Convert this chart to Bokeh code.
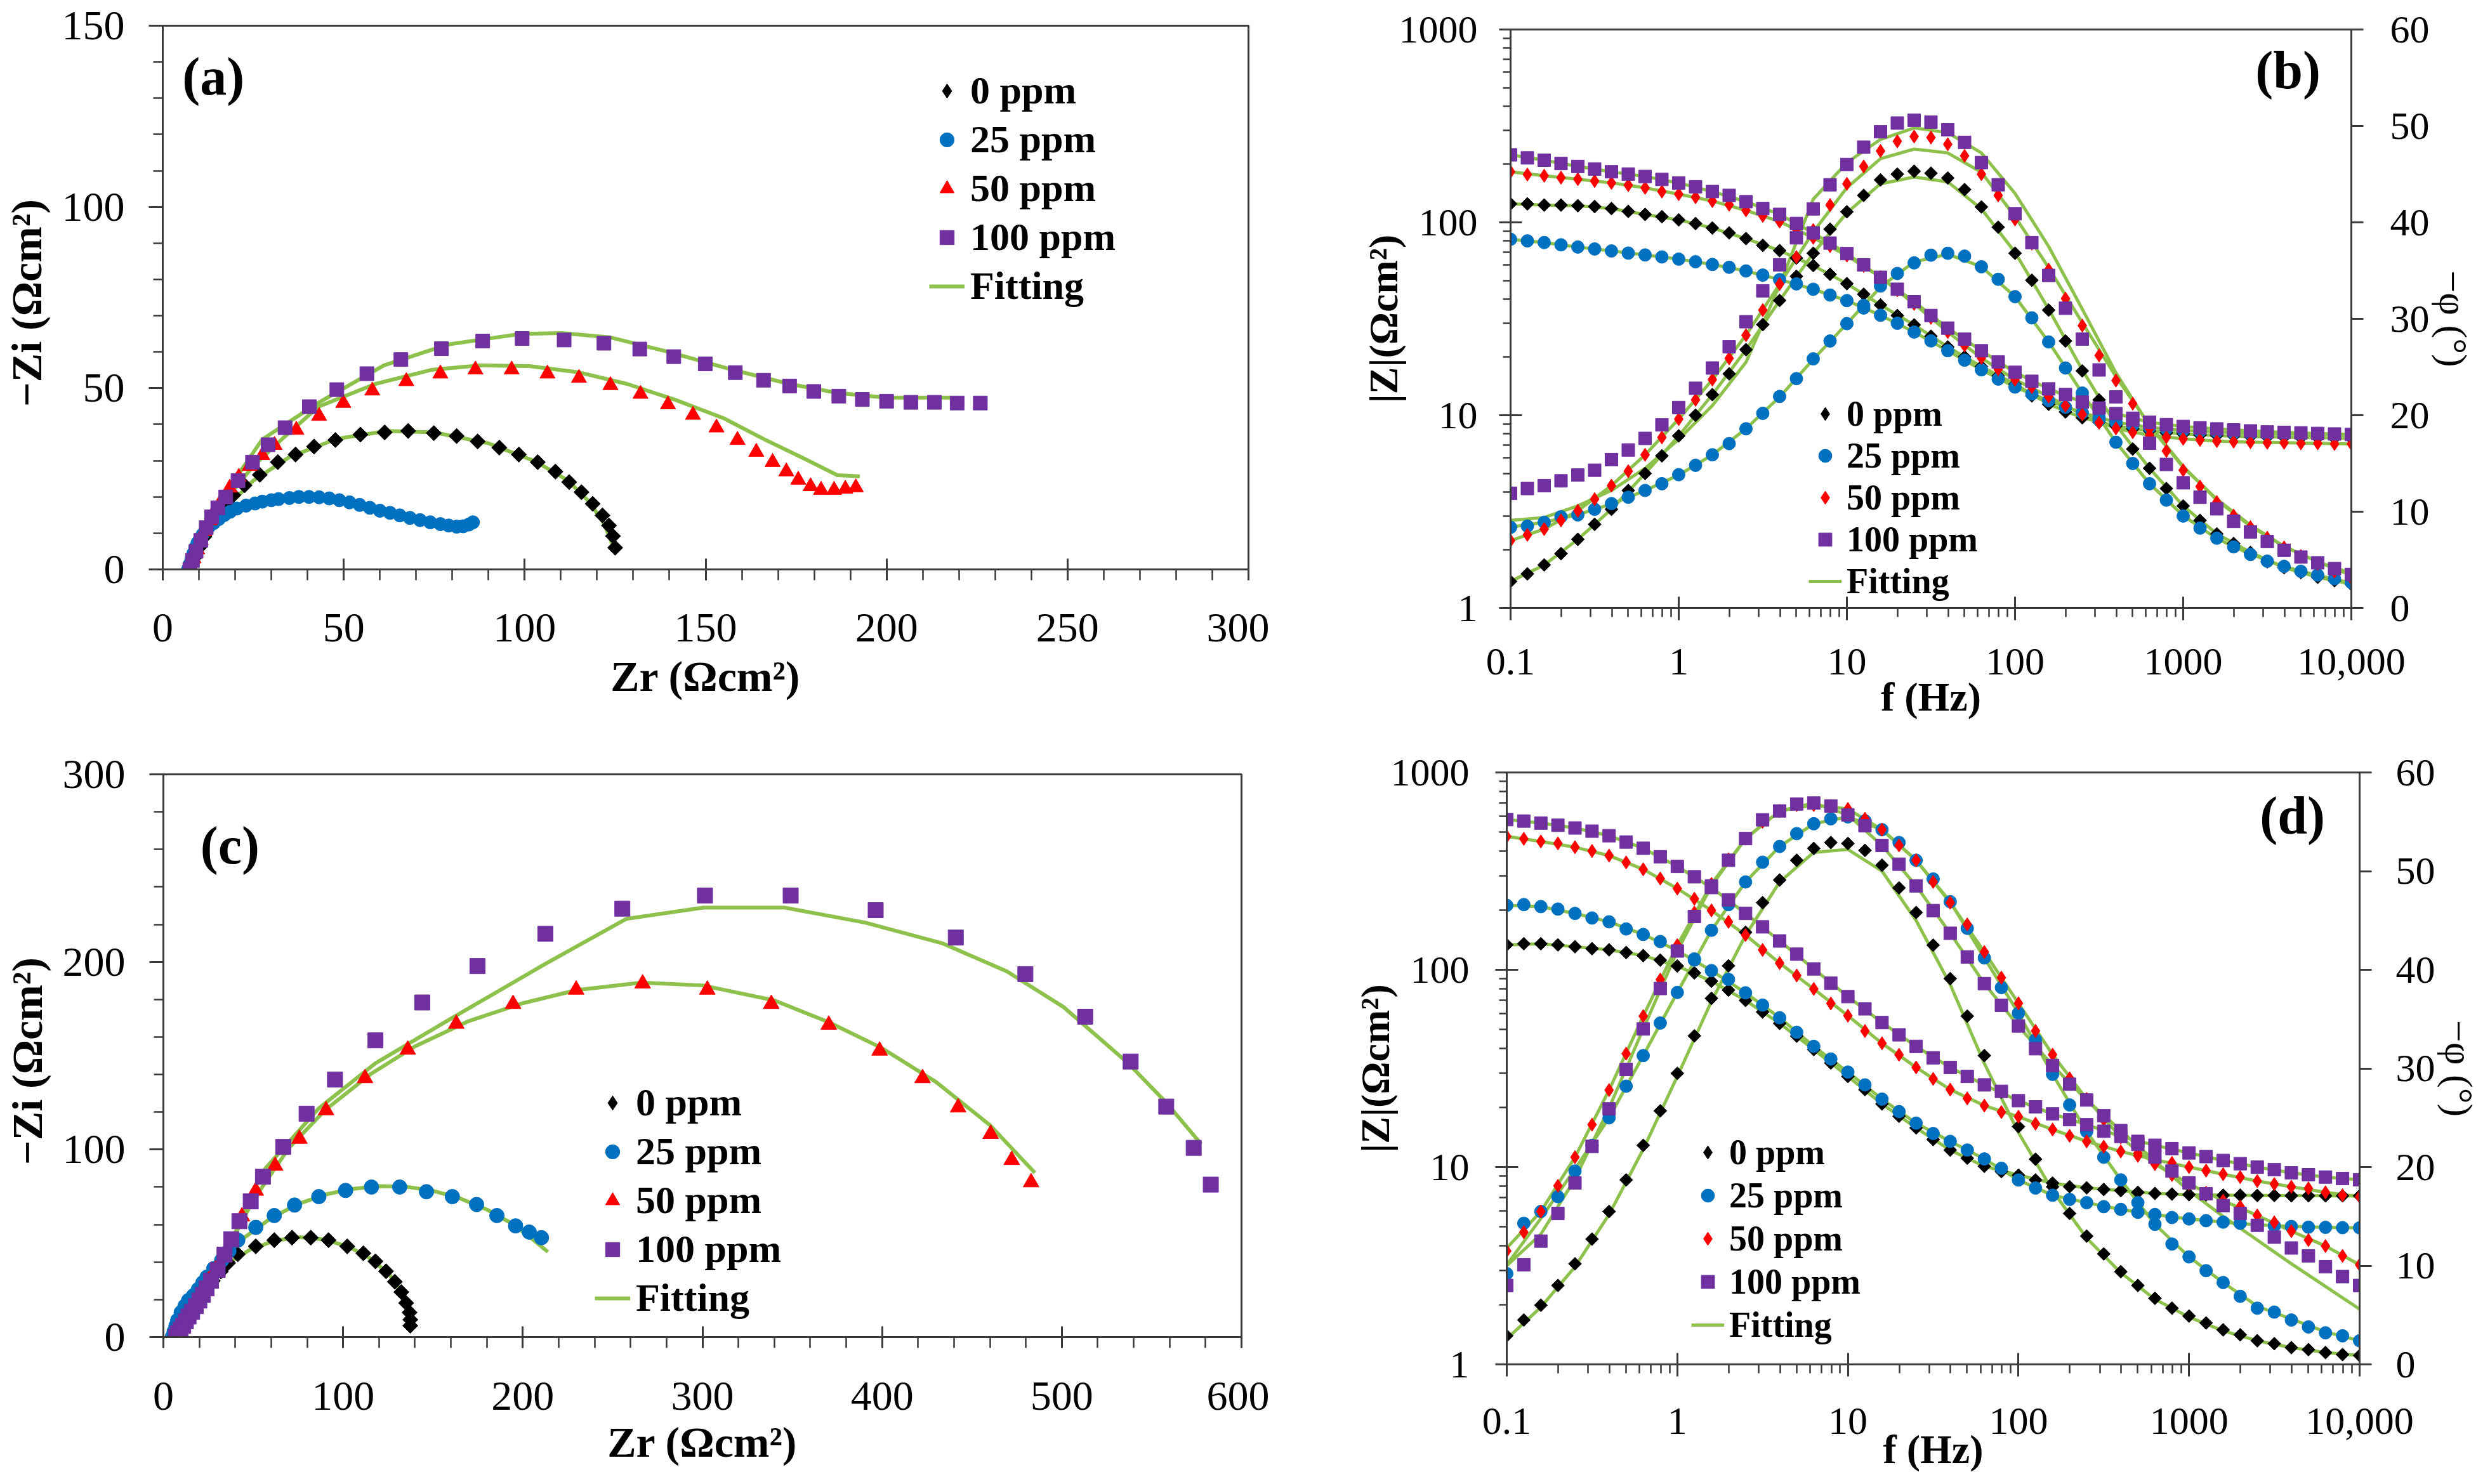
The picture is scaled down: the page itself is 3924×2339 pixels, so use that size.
import math
from bokeh.plotting import figure
from bokeh.models import (Range1d, LinearAxis, LinearScale, Legend, LegendItem, Label, FixedTicker,
                          SingleIntervalTicker, CustomJSTickFormatter)
from bokeh.layouts import column, row
from bokeh.embed import file_html
from bokeh.resources import INLINE

FONT = "Liberation Serif"
SERIES = ["0 ppm", "25 ppm", "50 ppm", "100 ppm"]
COLORS = ["#000000", "#0070C0", "#FF0000", "#7030A0"]
FIT_COLOR = "#8DC14B"
AXIS = "#3A3A3A"

# ---------------- panel (a): Nyquist, first set ----------------
A_X0 = [7.5, 8.5, 10, 11.5, 13, 15, 17, 19.5, 22.6, 26.8, 31.8, 36.7, 41.8, 47.7, 54.6, 61.3, 67.8, 74.9,
        81.2, 87, 93, 98.4, 103.6, 108.5, 112.3, 115.7, 118.8, 121.5, 123.3, 124.4, 125]
A_Y0 = [1, 3, 6, 9, 12, 15, 18, 20.5, 23.2, 26.1, 29.6, 31.7, 33.9, 35.7, 37.2, 37.8, 38.2, 37.6,
        36.8, 35.3, 33.6, 31.7, 29.6, 27, 24.1, 21.3, 18.1, 14.9, 12.1, 9.2, 6]
A_X25 = [7, 7.5, 8, 8.5, 9, 9.6, 10.3, 11, 11.8, 12.7, 14.1, 15.5, 17, 18.6, 20.5, 23, 25.5, 27.5, 30, 32,
         35, 37.6, 40.4, 43.2, 46, 48.8, 51.6, 54.4, 57.2, 60, 62.8, 65.5, 68.3, 71.1, 73.9, 76.7, 79, 81.2,
         83, 84.6, 85.7]
A_Y25 = [0, 1.5, 3, 4.5, 6, 7.3, 8.5, 9.6, 10.6, 11.7, 12.8, 13.9, 15, 15.9, 16.8, 17.6, 18.2, 18.7, 19.1,
         19.4, 19.7, 20, 20, 19.9, 19.6, 19.1, 18.5, 17.8, 17, 16.2, 15.6, 14.9, 14.2, 13.6, 13.0, 12.5,
         12.1, 11.8, 11.9, 12.4, 13.0]
A_X50 = [7.5, 8.5, 9.5, 10.5, 11.5, 13, 14.5, 16.5, 18.5, 21, 24, 27.5, 30.9, 36.9, 43.2, 49.9, 57.9, 67.3,
         76.7, 86.4, 96.4, 106.3, 115, 123.7, 132, 139.6, 146.5, 153, 158.8, 164, 168.5, 172.3, 175.6, 179,
         181.9, 185.5, 188.6, 191.5]
A_Y50 = [0.5, 3, 5.5, 8, 10.5, 13.5, 16.5, 19.5, 22.5, 25.5, 28.5, 31.5, 34.3, 38.5, 42.3, 45.9, 49.3, 51.9,
         54, 55.1, 55.1, 54, 52.8, 50.8, 48.4, 45.5, 42.6, 39.1, 35.7, 32.4, 29.6, 27, 24.7, 22.9, 21.9,
         21.9, 22.2, 22.6]
A_X100 = [7.5, 8.2, 9.2, 10.5, 12, 13.5, 15.2, 17.4, 20.8, 24.8, 29.1, 33.8, 40.5, 48.1, 56.4, 65.8, 77,
          88.4, 99.3, 110.9, 121.9, 131.8, 141.2, 149.9, 158.2, 166, 173.2, 179.9, 186.8, 193.3, 200,
          206.7, 213.2, 219.5, 225.9]
A_Y100 = [0, 2.5, 5, 8, 11.5, 14.5, 17, 20, 24.5, 29.6, 34.4, 39.1, 44.9, 49.6, 54, 57.9, 60.9, 63, 63.7,
          63.3, 62.4, 60.8, 58.7, 56.7, 54.3, 52.2, 50.6, 49.1, 47.8, 46.9, 46.4, 46.1, 46.1, 45.9, 45.9]
A_FX0 = [7, 12, 18, 25, 35, 48, 62, 75, 90, 103, 112, 118, 122, 125]
A_FY0 = [0, 9, 17.5, 24.5, 31, 36, 38.2, 37.8, 34.8, 29.8, 24.5, 18.5, 12.5, 5]
A_FX50 = [7, 12, 18, 25, 33, 43, 58.8, 74.5, 87.9, 101.3, 114.8, 128.2, 141.6, 155, 166.2, 177.4, 186.4, 192.6]
A_FY50 = [0, 11, 20, 28.5, 36, 44.9, 51.2, 55.1, 56.3, 56.1, 54.4, 51.2, 46.8, 41.7, 35.9, 30.5, 26, 25.7]
A_FX100 = [7, 12, 18, 27.5, 43.2, 61.1, 79, 99.1, 110.3, 123.7, 139.4, 157.3, 173, 186.4, 199.8, 217.7]
A_FY100 = [0, 11, 22, 35.9, 46.1, 56.3, 62.1, 65, 65.2, 64, 60.1, 55.1, 51.2, 48.7, 47.4, 47.4]

# ---------------- panel (c): Nyquist, second set ----------------
C_X0 = [5, 6.5, 8, 10, 12.5, 15.5, 19, 23, 27.5, 32, 36, 41.4, 51.4, 61.7, 71.6, 82, 91.9, 102.3, 111.3,
        118, 123.9, 128.8, 132.4, 135.1, 137, 137.4, 137.4]
C_Y0 = [0, 2, 5, 8, 12, 16, 20, 25, 30, 35, 39.5, 44.2, 48.4, 51.7, 53, 53, 51.7, 48.4, 44.7, 40.4, 35.1,
        29.5, 24, 18.2, 13.1, 9.3, 6.1]
C_X25 = [5, 6, 7, 8, 9.9, 12, 14, 16.7, 19.5, 22, 24.3, 28, 32.4, 36.5, 41.4, 51.4, 61.7, 73, 86.5, 101.4,
         115.8, 131.5, 146.4, 160.8, 174.3, 185.6, 196, 203.6, 210.4]
C_Y25 = [0, 3, 6, 9, 13.1, 16.5, 19.5, 22, 25.5, 29, 32, 36.5, 40.9, 46, 51.7, 58.5, 64.8, 70.4, 74.9, 78.2,
         80, 80, 77.5, 74.9, 70.7, 64.8, 59.3, 56, 53]
C_X50 = [6, 8, 10, 12.5, 15, 18, 21, 25, 29, 34, 43.7, 51.4, 62.2, 75.7, 90.5, 112.2, 136, 163, 194.6,
         229.7, 266.7, 302.7, 338.3, 370.3, 398.6, 422.5, 442.3, 460.4, 472.1, 482.9]
C_Y50 = [0, 3, 6.5, 10.5, 14.5, 19, 24, 30, 36, 43, 64.3, 78, 91.3, 105.7, 120.9, 138, 153.2, 167, 177.6,
         185.2, 188.5, 185.2, 177.6, 166.5, 152.7, 138, 122.4, 108.3, 94.4, 82.5]
C_X100 = [7, 8, 9.5, 11, 12.5, 14, 16, 18, 20, 22, 24, 26.5, 30.2, 34, 37.8, 42.3, 48.6, 55.4, 66.7, 79.7,
          95.5, 118, 144.1, 174.8, 212.6, 255.4, 301.4, 349.1, 396.4, 441, 479.7, 513, 538.3, 558.1,
          573.4, 582.9]
C_Y100 = [0, 2, 4, 6, 8.5, 11, 13.5, 16.5, 19.5, 22.5, 26, 30, 35.8, 44, 52.2, 61.8, 72.4, 85.5, 101.4,
          119.1, 137.3, 158.2, 178.4, 197.8, 215, 228.4, 235.4, 235.4, 227.6, 213, 193.5, 170.8, 146.9,
          122.9, 100.9, 81.3]
C_FX0 = [5, 12, 22, 34, 48, 62, 76, 90, 104, 116, 126, 132, 136, 138]
C_FY0 = [0, 12, 24, 38, 46.5, 51.5, 53.3, 52, 47.8, 41.5, 33, 25, 16, 6]
C_FX25 = [5, 15, 30, 45, 60, 75, 90, 105, 120, 135, 150, 165, 180, 195, 205, 214]
C_FY25 = [0, 20, 38, 53, 63.5, 71, 76, 79, 80.5, 80.2, 78, 74, 68, 60, 52.5, 45.4]
C_FX50 = [6, 15, 25, 35, 50, 70, 90, 115, 140, 170, 200, 230, 266, 300, 340, 370, 400, 430, 460, 485]
C_FY50 = [0, 14, 29, 46, 73, 101, 121, 140, 155, 168.5, 178, 185, 189, 187.5, 179.5, 168, 154, 136, 113, 87.6]
C_FX100 = [7, 20, 35, 55, 86.5, 118, 158.6, 212.6, 257.7, 300.5, 345.5, 390.5, 433.3, 469.4, 500.9, 536.9,
           558.1, 577.5]
C_FY100 = [0, 19, 45, 88, 122, 146, 169, 199, 223, 229, 229, 221, 210, 195, 176, 146, 125, 103]

# ---------------- Bode frequencies ----------------
FREQ = [0.1, 0.1259, 0.1585, 0.1995, 0.2512, 0.3162, 0.3981, 0.5012, 0.631, 0.7943,
        1.0, 1.259, 1.585, 1.995, 2.512, 3.162, 3.981, 5.012, 6.31, 7.943,
        10.0, 12.59, 15.85, 19.95, 25.12, 31.62, 39.81, 50.12, 63.1, 79.43,
        100.0, 125.9, 158.5, 199.5, 251.2, 316.2, 398.1, 501.2, 631.0, 794.3,
        1000.0, 1259.0, 1585.0, 1995.0, 2512.0, 3162.0, 3981.0, 5012.0, 6310.0, 7943.0, 10000.0]
FIT_FREQ = [0.1, 0.1585, 0.2512, 0.3981, 0.631, 1.0, 1.585, 2.512, 3.981, 6.31, 10.0, 15.85, 25.12,
            39.81, 63.1, 100.0, 158.5, 251.2, 398.1, 631.0, 1000.0, 1585.0, 2512.0, 3981.0, 6310.0, 10000.0]

# ---------------- panel (b) ----------------
B_Z0 = [124.7, 124.7, 123.0, 123.0, 122.0, 120.8, 118.0, 114.0, 110.0, 107.0,
        103.0, 98.6, 93.5, 88.2, 82.4, 76.0, 71.4, 65.3, 59.7, 53.8,
        48.1, 42.4, 37.3, 32.9, 29.4, 25.7, 22.6, 20.1, 17.9, 16.0,
        14.5, 12.6, 11.4, 10.4, 9.7, 9.2, 8.8, 8.5, 8.3, 8.1,
        8.0, 7.9, 7.85, 7.8, 7.75, 7.7, 7.7, 7.65, 7.65, 7.6, 7.6]
B_Z25 = [81.7, 80.2, 78.6, 76.5, 74.5, 72.8, 71.1, 69.3, 67.8, 66.2,
         64.5, 62.5, 60.5, 58.5, 56.0, 53.3, 50.5, 48.0, 45.0, 42.0,
         39.3, 36.0, 33.0, 30.0, 27.0, 24.3, 21.6, 19.3, 17.2, 15.4,
         14.0, 12.9, 11.9, 11.0, 10.3, 9.7, 9.2, 8.9, 8.65, 8.5,
         8.35, 8.25, 8.2, 8.1, 8.05, 8.0, 8.0, 7.95, 7.95, 7.9, 7.9]
B_Z50 = [183, 177, 174.5, 170.6, 167.5, 163.8, 160.3, 156, 151, 144.5,
         140, 135, 129, 123.5, 115.4, 108, 101, 92.3, 83.2, 75.3,
         67.3, 59.5, 52, 44.5, 37.8, 32, 27, 23, 19.8, 17.3,
         15.3, 14.0, 12.5, 11.2, 10.1, 9.14, 8.55, 8.17, 7.88, 7.7,
         7.55, 7.45, 7.35, 7.3, 7.25, 7.2, 7.2, 7.15, 7.15, 7.1, 7.1]
B_Z100 = [224, 216, 210, 202, 195, 189, 183, 178, 173, 167,
          160, 153, 144.5, 138, 128, 118, 110, 98.7, 88.2, 78.1,
          68.9, 60.2, 51.9, 45, 38.8, 32.9, 28.3, 24.8, 21.6, 18.9,
          16.7, 15, 13.7, 12.8, 11.7, 10.9, 10.2, 9.65, 9.2, 8.94,
          8.75, 8.6, 8.5, 8.4, 8.3, 8.2, 8.15, 8.1, 8.05, 8.0, 7.95]
B_P0 = [2.77, 3.55, 4.48, 5.65, 7.13, 8.69, 10.25, 12.2, 13.96, 15.79,
        17.86, 20.0, 22.14, 24.3, 26.8, 29.4, 31.9, 34.4, 36.8, 39.3,
        41.1, 42.8, 44.4, 45.0, 45.3, 45.1, 44.6, 43.4, 41.6, 39.5,
        36.8, 34.0, 30.9, 27.7, 24.6, 21.6, 19.0, 16.5, 14.5, 12.4,
        10.6, 9.1, 7.7, 6.7, 5.77, 4.8, 4.2, 3.7, 3.2, 2.85, 2.46]
B_P25 = [8.38, 8.5, 8.9, 9.47, 9.67, 10.25, 10.84, 11.5, 12.2, 12.9,
         13.84, 14.81, 15.9, 17.06, 18.6, 20.2, 21.95, 23.8, 25.85, 27.7,
         29.5, 31.4, 33.4, 34.7, 35.8, 36.6, 36.8, 36.5, 35.4, 34.1,
         32.3, 30.1, 27.6, 24.9, 22.3, 19.5, 17.2, 15.0, 12.9, 11.2,
         9.55, 8.3, 7.25, 6.35, 5.57, 4.87, 4.33, 3.82, 3.43, 3.04, 2.65]
B_P50 = [7.0, 7.6, 8.2, 9.1, 10.1, 11.3, 12.7, 14.2, 15.9, 17.7,
         19.6, 21.6, 23.7, 25.9, 28.3, 30.9, 33.6, 36.4, 39.2, 41.8,
         44.0, 45.8, 47.4, 48.4, 48.9, 48.8, 48.1, 46.9, 45.0, 42.8,
         40.3, 37.8, 35.1, 32.1, 29.3, 26.2, 23.6, 21.2, 18.6, 16.3,
         14.3, 12.6, 11.0, 9.6, 8.4, 7.3, 6.3, 5.4, 4.6, 3.8, 3.1]
B_P100 = [11.9, 12.4, 12.7, 13.2, 13.8, 14.3, 15.4, 16.4, 17.6, 19.0,
          20.8, 22.8, 24.9, 27.1, 29.7, 32.9, 35.6, 38.4, 41.4, 43.9,
          46.0, 47.8, 49.4, 50.3, 50.6, 50.4, 49.6, 48.3, 46.2, 43.9,
          40.9, 37.9, 34.5, 31.1, 27.9, 24.7, 21.9, 19.5, 17.1, 14.9,
          13.0, 11.5, 10.3, 9.0, 7.9, 6.9, 6.0, 5.3, 4.7, 4.1, 3.5]
BF_Z0 = [124.7, 123.0, 122.0, 118.0, 110.0, 103.0, 93.5, 82.4, 71.4, 59.7, 48.1, 37.3, 29.4, 22.6, 17.9,
         14.5, 11.4, 9.7, 8.8, 8.3, 8.0, 7.85, 7.75, 7.7, 7.65, 7.6]
BF_Z25 = [81.7, 78.6, 74.5, 71.1, 67.8, 64.5, 60.5, 56.0, 50.5, 45.0, 39.3, 33.0, 27.0, 21.6, 17.2, 14.0,
          11.9, 10.3, 9.2, 8.65, 8.35, 8.2, 8.05, 8.0, 7.95, 7.9]
BF_Z50 = [183, 174.5, 167.5, 160.3, 151, 140, 129, 115.4, 101, 83.2, 67.3, 52, 37.8, 27, 19.8, 15.3, 12.5,
          10.1, 8.55, 7.88, 7.55, 7.35, 7.25, 7.2, 7.15, 7.1]
BF_Z100 = [224, 210, 195, 183, 173, 160, 144.5, 128, 110, 88.2, 68.9, 51.9, 38.8, 28.3, 21.6, 16.7, 13.7,
           11.7, 10.2, 9.2, 8.75, 8.5, 8.3, 8.15, 8.05, 7.95]
BF_P0 = [2.77, 4.48, 7.13, 10.25, 13.96, 17.86, 22.14, 26.8, 31.9, 36.8, 41.0, 44.0, 44.7, 44.2, 41.4,
         36.9, 31.0, 24.7, 19.0, 14.5, 10.6, 7.7, 5.8, 4.2, 3.2, 2.5]
BF_P25 = [8.4, 8.9, 9.7, 10.8, 12.2, 13.8, 15.9, 18.6, 21.9, 25.8, 29.5, 33.3, 35.9, 36.7, 35.4, 32.3,
          27.6, 22.3, 17.2, 12.9, 9.6, 7.2, 5.6, 4.3, 3.4, 2.6]
BF_P50 = [7.0, 8.2, 10.1, 12.7, 15.9, 19.6, 23.7, 28.3, 33.6, 39.0, 43.6, 46.6, 47.6, 47.2, 45.2, 40.6,
          35.3, 29.6, 24.0, 19.0, 14.7, 11.2, 8.5, 6.4, 4.8, 3.4]
BF_P100 = [9.1, 9.4, 10.6, 12.2, 14.5, 17.5, 21.0, 25.5, 33.5, 42.4, 46.2, 48.6, 49.8, 49.3, 47.2, 43.0,
           37.5, 31.0, 24.4, 18.9, 14.6, 11.3, 8.6, 6.4, 4.8, 3.6]

# ---------------- panel (d) ----------------
D_Z0 = [133.7, 135.5, 135.5, 133.7, 130.9, 127.9, 126.2, 122.3, 118.0, 111.9,
        104.5, 96.4, 87.5, 78.9, 69.9, 61.1, 53.5, 46.1, 39.4, 33.7,
        28.8, 24.7, 20.9, 18.1, 15.8, 13.8, 12.2, 11.1, 10.1, 9.5,
        9.1, 8.6, 8.3, 7.95, 7.85, 7.7, 7.6, 7.45, 7.35, 7.3,
        7.25, 7.22, 7.2, 7.2, 7.18, 7.18, 7.16, 7.16, 7.15, 7.15, 7.15]
D_Z25 = [212, 214, 209, 203, 193, 183, 175, 161, 151, 139,
         125, 112, 99, 89.4, 76.4, 66.2, 57.1, 48.2, 40.9, 35.3,
         30.3, 26.1, 22.1, 19.1, 16.7, 14.8, 13.5, 12.2, 11.0, 9.86,
         8.6, 7.83, 7.2, 6.86, 6.6, 6.3, 6.1, 5.9, 5.75, 5.55,
         5.46, 5.35, 5.26, 5.19, 5.1, 5.03, 5.0, 4.96, 4.95, 4.93, 4.92]
D_Z50 = [474, 461, 447, 437, 418, 400, 379, 350, 323, 290,
         258, 229, 200, 175, 150, 126, 108, 93.5, 80, 67.5,
         58.5, 48.9, 42.4, 37.1, 32, 28, 24.7, 22.3, 20.5, 19.0,
         18.0, 16.6, 15.5, 14.4, 13.5, 12.7, 12.0, 11.4, 10.9, 10.5,
         10.0, 9.6, 9.2, 8.9, 8.5, 8.2, 7.95, 7.8, 7.45, 7.2, 7.07]
D_Z100 = [577, 567, 554, 540, 523, 504, 478, 444, 413, 374,
          334, 296, 261, 226, 193, 165, 140, 120, 101, 85.5,
          73.1, 63.4, 54, 46.8, 40.9, 35.8, 32, 28.8, 26.1, 24.2,
          21.7, 20.2, 18.6, 17.4, 16.4, 15.2, 14.3, 13.5, 12.9, 12.4,
          11.8, 11.3, 10.8, 10.4, 10.0, 9.7, 9.35, 9.15, 8.9, 8.75, 8.63]
D_P0 = [2.9, 4.5, 6.0, 8.0, 10.2, 12.7, 15.5, 18.7, 22.2, 25.7,
        29.5, 33.3, 37.1, 40.4, 43.8, 46.8, 49.1, 51.1, 52.3, 52.9,
        52.8, 52.1, 50.6, 48.3, 45.8, 42.5, 39.1, 35.3, 31.3, 27.6,
        24.1, 20.8, 18.0, 15.3, 13.0, 11.2, 9.4, 8.0, 6.7, 5.7,
        4.9, 4.2, 3.5, 3.0, 2.4, 2.1, 1.7, 1.5, 1.2, 1.0, 0.9]
D_P25 = [9.2, 14.3, 15.5, 17.0, 19.6, 22.2, 25.0, 28.2, 31.3, 34.6,
         37.7, 41.1, 44.0, 46.6, 48.9, 50.9, 52.5, 53.8, 54.8, 55.3,
         55.5, 55.1, 54.2, 52.9, 51.1, 49.2, 46.9, 44.2, 41.2, 38.2,
         35.6, 32.9, 29.4, 26.3, 23.6, 21.0, 18.7, 16.4, 14.2, 12.2,
         10.9, 9.5, 8.3, 6.9, 5.7, 5.3, 4.5, 3.8, 3.2, 2.9, 2.4]
D_P50 = [11.5, 13.4, 15.5, 18.1, 21.0, 24.3, 27.8, 31.5, 35.3, 39.0,
         42.5, 45.8, 48.7, 51.2, 53.3, 55.0, 56.1, 56.7, 56.7, 56.6,
         56.3, 55.3, 54.2, 52.6, 51.1, 48.9, 46.8, 44.6, 41.8, 39.2,
         36.6, 33.8, 31.4, 29.0, 26.9, 24.8, 23.0, 21.4, 20.3, 19.2,
         18.3, 17.4, 16.6, 16.0, 15.1, 14.4, 13.5, 12.6, 12.0, 11.0, 10.1]
D_P100 = [8.0, 10.1, 12.5, 15.3, 18.4, 22.1, 25.9, 29.9, 34.0, 38.1,
          41.9, 45.4, 48.5, 51.1, 53.3, 55.2, 56.1, 56.8, 56.9, 56.6,
          55.7, 54.6, 52.6, 50.7, 48.5, 46.0, 43.7, 41.3, 38.6, 36.4,
          34.3, 32.0, 30.3, 28.4, 26.8, 25.2, 23.7, 22.3, 21.0, 19.6,
          18.4, 17.3, 16.1, 15.3, 14.1, 12.9, 11.8, 11.0, 9.9, 8.9, 8.0]
DF_Z0 = [133.7, 135.5, 130.9, 126.2, 118.0, 104.5, 87.5, 69.9, 53.5, 39.4, 28.8, 20.9, 15.8, 12.2, 10.1,
         9.1, 8.3, 7.85, 7.6, 7.35, 7.25, 7.2, 7.18, 7.16, 7.15, 7.15]
DF_Z25 = [212, 209, 193, 175, 151, 125, 99, 76.4, 57.1, 40.9, 30.3, 22.1, 16.7, 13.5, 11.0, 8.6, 7.2, 6.6,
          6.1, 5.75, 5.46, 5.26, 5.1, 5.0, 4.95, 4.92]
DF_Z50 = [474, 447, 418, 379, 323, 258, 200, 150, 108, 80, 58.5, 42.4, 32, 24.7, 20.5, 18.0, 15.5, 13.5,
          12.0, 10.9, 10.0, 9.2, 8.5, 7.95, 7.45, 7.07]
DF_Z100 = [577, 554, 523, 478, 413, 334, 261, 193, 140, 101, 73.1, 54, 40.9, 32, 26.1, 21.7, 18.6, 16.4,
           14.3, 12.9, 11.8, 10.8, 10.0, 9.35, 8.9, 8.63]
DF_P0 = [2.6, 5.8, 9.9, 15.2, 21.8, 29.2, 36.8, 43.5, 48.9, 51.9, 52.2, 50.0, 45.0, 38.5, 30.5, 23.5,
         17.6, 12.8, 9.3, 6.6, 4.8, 3.4, 2.4, 1.7, 1.2, 0.9]
DF_P25 = [10.1, 14.8, 19.8, 25.0, 31.3, 37.7, 44.0, 48.9, 52.5, 54.8, 55.5, 54.2, 51.1, 46.9, 41.2, 35.6,
          29.4, 23.6, 18.7, 14.2, 10.9, 8.3, 5.9, 4.6, 3.3, 2.4]
DF_P50 = [11.8, 15.5, 21.0, 27.8, 35.3, 42.5, 48.7, 53.3, 56.1, 56.7, 56.3, 54.2, 51.1, 46.8, 41.8, 36.6,
          31.4, 26.9, 23.0, 20.3, 18.3, 16.6, 15.1, 13.5, 12.0, 10.1]
DF_P100 = [10.0, 13.2, 18.8, 26.0, 34.0, 41.9, 48.5, 53.3, 56.1, 56.9, 55.7, 52.6, 48.5, 43.7, 38.6, 34.3,
           30.3, 26.8, 23.7, 20.6, 17.6, 15.0, 12.6, 10.2, 7.9, 5.6]

X_TICKS = [0.1, 1, 10, 100, 1000, 10000]
Y_TICKS = [1, 10, 100, 1000]
PHI_TICKS = [0, 10, 20, 30, 40, 50, 60]


def style_axis(ax, lab_px, title_px, title_bold, tin, tout, mout, lstand, tstand):
    ax.axis_line_color = AXIS
    ax.axis_line_width = 3
    ax.major_tick_line_color = AXIS
    ax.major_tick_line_width = 3
    ax.major_tick_in = tin
    ax.major_tick_out = tout
    if mout:
        ax.minor_tick_line_color = AXIS
        ax.minor_tick_line_width = 2.5
        ax.minor_tick_in = 0
        ax.minor_tick_out = mout
    else:
        ax.minor_tick_line_color = None
    ax.major_label_text_font = FONT
    ax.major_label_text_font_size = f"{lab_px}px"
    ax.major_label_text_color = "black"
    ax.major_label_standoff = lstand
    ax.axis_label_text_font = FONT
    ax.axis_label_text_font_size = f"{title_px}px"
    ax.axis_label_text_font_style = "bold" if title_bold else "normal"
    ax.axis_label_text_color = "black"
    ax.axis_label_standoff = tstand


def base_fig(w, h, borders, **kw):
    p = figure(width=w, height=h, output_backend="svg", toolbar_location=None,
               min_border_left=borders[0], min_border_right=borders[1],
               min_border_top=borders[2], min_border_bottom=borders[3], **kw)
    if "frame_align" in p.properties():
        p.frame_align = False
    p.xgrid.visible = False
    p.ygrid.visible = False
    p.outline_line_color = AXIS
    p.outline_line_width = 3
    p.outline_line_alpha = 1
    p.background_fill_color = "white"
    p.border_fill_color = "white"
    return p


def add_markers(p, x, y, i, sizes, bode, **kw):
    """Draw one series; returns the renderer used for the legend swatch."""
    c = COLORS[i]
    if i == 0:
        # a plain diamond (hidden under the rotated squares) gives the legend its diamond swatch
        legend_r = p.scatter(x, y, marker="diamond", size=sizes[0], fill_color=c, line_color=c, **kw)
        p.scatter(x, y, marker="square", angle=math.pi / 4, size=sizes[0],
                  fill_color=c, line_color=c, **kw)
        return legend_r
    if i == 1:
        return p.scatter(x, y, marker="circle", size=sizes[1], fill_color=c, line_color=c, **kw)
    if i == 2:
        return p.scatter(x, y, marker="diamond" if bode else "triangle", size=sizes[2],
                         fill_color=c, line_color=c, **kw)
    return p.scatter(x, y, marker="square", size=sizes[3], fill_color=c, line_color=c, **kw)


def add_legend(p, renderers, fit_renderer, loc, gw, gh, font_px, spacing, standoff):
    items = [LegendItem(label=name, renderers=[r]) for name, r in zip(SERIES, renderers)]
    items.append(LegendItem(label="Fitting", renderers=[fit_renderer]))
    leg = Legend(items=items, location=loc, glyph_width=gw, glyph_height=gh, label_height=gh,
                 label_standoff=standoff, spacing=spacing, padding=0, margin=0,
                 border_line_color=None, background_fill_alpha=0,
                 label_text_font=FONT, label_text_font_size=f"{font_px}px",
                 label_text_font_style="bold", label_text_color="black")
    p.add_layout(leg)


def panel_label(p, x, y, text):
    p.add_layout(Label(x=x, y=y, text=text, text_font=FONT, text_font_size="84px",
                       text_font_style="bold", text_align="center", text_baseline="middle",
                       text_color="black"))


def nyquist(w, h, borders, xmax, ymax, xint, yint, data, fits, sizes, legend_loc, lab):
    p = base_fig(w, h, borders, x_range=Range1d(0, xmax), y_range=Range1d(0, ymax))
    p.xaxis.ticker = SingleIntervalTicker(interval=xint, num_minor_ticks=5)
    p.yaxis.ticker = SingleIntervalTicker(interval=yint, num_minor_ticks=5)
    p.xaxis.axis_label = "Zr (Ωcm²)"
    p.yaxis.axis_label = "−Zi  (Ωcm²)"
    style_axis(p.xaxis[0], 66, 68, True, 17, 17, 17, lab[0], lab[1])
    style_axis(p.yaxis[0], 66, 68, True, 0, 22, 15, 38, 15)
    fit_r = None
    for fx, fy in fits:
        fit_r = p.line(fx, fy, line_color=FIT_COLOR, line_width=6, line_join="round")
    rs = []
    for i, (x, y) in enumerate(data):
        rs.append(add_markers(p, x, y, i, sizes, False))
    add_legend(p, rs, fit_r, legend_loc, 56, 70, 62, 6, 9)
    return p


def bode(w, h, borders, zs, ps, fz, fp, sizes, legend_loc, legend_spacing, xlab, ylab_stand, rlab_stand):
    p = base_fig(w, h, borders, x_axis_type="log", y_axis_type="log",
                 x_range=Range1d(0.1, 10000), y_range=Range1d(1, 1000))
    p.extra_y_ranges = {"phi": Range1d(0, 60)}
    p.extra_y_scales = {"phi": LinearScale()}
    xminor = [m * d for d in [0.1, 1, 10, 100, 1000] for m in range(2, 10)]
    yminor = [m * d for d in [1, 10, 100] for m in range(2, 10)]
    p.xaxis.ticker = FixedTicker(ticks=X_TICKS, minor_ticks=xminor)
    p.yaxis.ticker = FixedTicker(ticks=Y_TICKS, minor_ticks=yminor)
    p.xaxis.formatter = CustomJSTickFormatter(
        code="return tick > 9999 ? '10,000' : String(Number(tick.toPrecision(6)));")
    p.yaxis.formatter = CustomJSTickFormatter(code="return String(Number(tick.toPrecision(6)));")
    p.xaxis.axis_label = "f (Hz)"
    p.yaxis.axis_label = "|Z|(Ωcm²)"
    style_axis(p.xaxis[0], 62, 64, True, 18, 19, 14, xlab[0], xlab[1])
    style_axis(p.yaxis[0], 62, 64, True, 18, 18, 12, ylab_stand[0], ylab_stand[1])
    rax = LinearAxis(y_range_name="phi", ticker=FixedTicker(ticks=PHI_TICKS), axis_label="−φ (°)")
    style_axis(rax, 62, 62, False, 0, 19, 0, rlab_stand, 0)
    p.add_layout(rax, "right")
    fit_r = None
    for i in range(4):
        p.line(FIT_FREQ, fz[i], line_color=FIT_COLOR, line_width=5, line_join="round")
        fit_r = p.line(FIT_FREQ, fp[i], line_color=FIT_COLOR, line_width=5, line_join="round",
                       y_range_name="phi")
    rs = []
    for i in range(4):
        rs.append(add_markers(p, FREQ, zs[i], i, sizes, True))
        add_markers(p, FREQ, ps[i], i, sizes, True, y_range_name="phi")
    add_legend(p, rs, fit_r, legend_loc, 52, 62, 56, legend_spacing, 8)
    return p


pa = nyquist(2000, 1170, (256, 33, 40, 273), 300, 150, 50, 50,
             [(A_X0, A_Y0), (A_X25, A_Y25), (A_X50, A_Y50), (A_X100, A_Y100)],
             [(A_FX0, A_FY0), (A_FX50, A_FY50), (A_FX100, A_FY100)],
             (17, 21, 24, 22), (1208, 411), (53, 14))
panel_label(pa, 14, 136, "(a)")

pc = nyquist(2000, 1160, (257, 44, 50, 223), 600, 300, 100, 100,
             [(C_X0, C_Y0), (C_X25, C_Y25), (C_X50, C_Y50), (C_X100, C_Y100)],
             [(C_FX0, C_FY0), (C_FX25, C_FY25), (C_FX50, C_FY50), (C_FX100, C_FY100)],
             (17, 23, 25, 24), (680, 26), (54, 10))
panel_label(pc, 37, 262, "(c)")

pb = bode(1916, 1170, (380, 211, 46, 212),
          [B_Z0, B_Z25, B_Z50, B_Z100], [B_P0, B_P25, B_P50, B_P100],
          [BF_Z0, BF_Z25, BF_Z50, BF_Z100], [BF_P0, BF_P25, BF_P50, BF_P100],
          (14.5, 20, 21, 20), (470, 10), 2, (45, -3), (34, -14), 42)
panel_label(pb, 4200, 616, "(b)")

pd = bode(1916, 1160, (374, 198, 47, 180),
          [D_Z0, D_Z25, D_Z50, D_Z100], [D_P0, D_P25, D_P50, D_P100],
          [DF_Z0, DF_Z25, DF_Z50, DF_Z100], [DF_P0, DF_P25, DF_P50, DF_P100],
          (14.5, 20, 21, 20), (291, 30), 4, (50, -14), (41, -14), 38)
panel_label(pd, 4040, 605, "(d)")

layout = column(row(pa, pb), row(pc, pd))
open("out.html", "w").write(file_html(layout, INLINE, title="EIS"))
